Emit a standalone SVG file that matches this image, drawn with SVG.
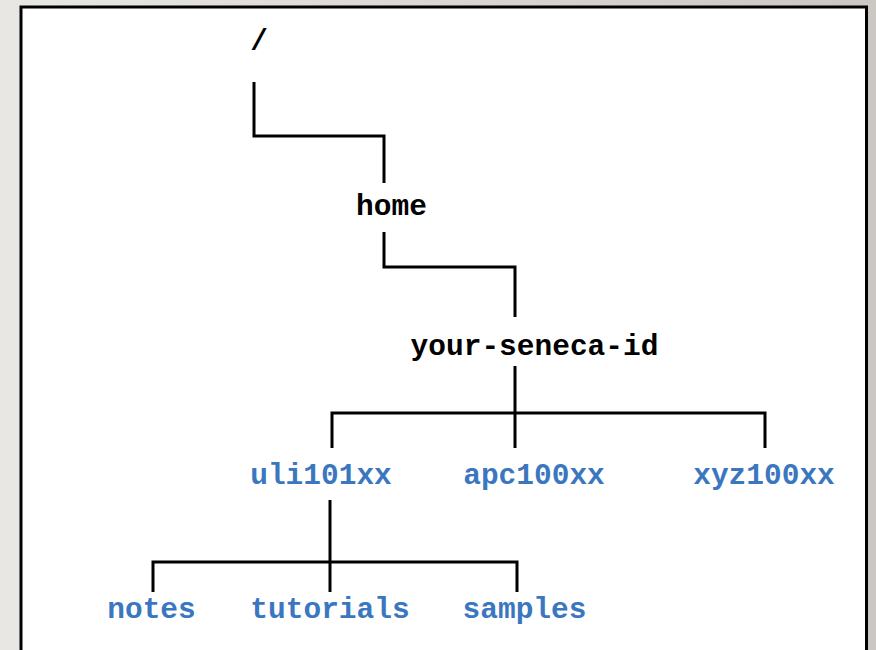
<svg xmlns="http://www.w3.org/2000/svg" width="876" height="650" viewBox="0 0 876 650">
<defs>
<linearGradient id="bg" x1="0" y1="0" x2="1" y2="0">
<stop offset="0" stop-color="#e9e7e4"/>
<stop offset="1" stop-color="#cbc7c3"/>
</linearGradient>
<style>
.t{font-family:"Liberation Mono","Courier New",monospace;font-weight:bold;font-size:29.5px;text-anchor:middle}
.k{fill:#000}
.b{fill:#3b77bf}
.c{fill:none;stroke:#000;stroke-width:3;stroke-linejoin:miter}
</style>
</defs>
<rect x="0" y="0" width="876" height="650" fill="url(#bg)"/>
<rect x="21" y="7" width="845.5" height="660" fill="#fff" stroke="#000" stroke-width="3"/>
<g id="connectors">
<path class="c" d="M254 82 V136 H384 V183"/>
<path class="c" d="M384 232 V267 H515 V317"/>
<path class="c" d="M515 366 V448"/>
<path class="c" d="M332 448 V413 H765 V448"/>
<path class="c" d="M330 500 V592"/>
<path class="c" d="M153 592 V562 H517 V592"/>
</g>
<g id="root"><text class="t k" x="259" y="50">/</text></g>
<g id="home"><text class="t k" x="391.5" y="215">home</text></g>
<g id="your-seneca-id"><text class="t k" x="534.5" y="355">your-seneca-id</text></g>
<g id="uli101xx"><text class="t b" x="321" y="484">uli101xx</text></g>
<g id="apc100xx"><text class="t b" x="534" y="484">apc100xx</text></g>
<g id="xyz100xx"><text class="t b" x="764" y="484">xyz100xx</text></g>
<g id="notes"><text class="t b" x="151.5" y="618">notes</text></g>
<g id="tutorials"><text class="t b" x="330" y="618">tutorials</text></g>
<g id="samples"><text class="t b" x="524.5" y="618">samples</text></g>
</svg>
